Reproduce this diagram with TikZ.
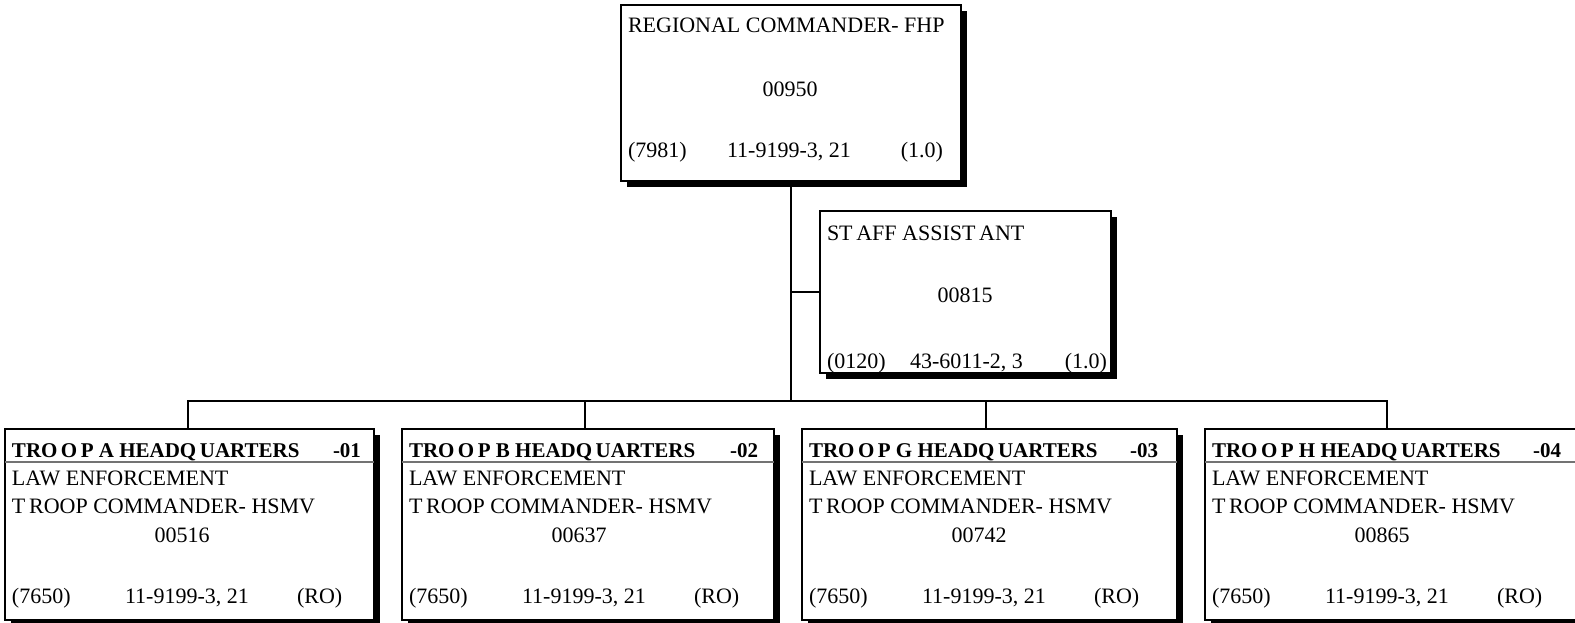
\documentclass[tikz,border=0pt]{standalone}
\usepackage{fontspec}
\setmainfont{Liberation Serif}
\usetikzlibrary{shadows}
\begin{document}
\begin{tikzpicture}[x=1pt,y=-1pt,
  orgbox/.style={draw=black, line width=2pt, fill=white, inner sep=0pt, outer sep=0pt,
    drop shadow={opacity=1, fill=black, shadow xshift=6pt, shadow yshift=-6pt}},
  conn/.style={draw=black, line width=1.6pt},
  sepline/.style={draw=black!55, line width=1.2pt},
  txt/.style={inner sep=0pt, outer sep=0pt, font=\fontsize{22}{24}\selectfont},
  hdr/.style={txt, font=\fontsize{21}{24}\selectfont\bfseries}]
\useasboundingbox (0,0) rectangle (1575,623);

% regional commander
\node[orgbox, minimum width=340, minimum height=176] (rc) at (791,93) {};
\node[txt, anchor=base west] (rc-t) at (628,33) {REGIONAL COMMANDER- FHP};
\node[txt, anchor=base] (rc-n) at (790,97) {00950};
\node[txt, anchor=base west] (rc-a) at (628,158) {(7981)};
\node[txt, anchor=base west] (rc-b) at (727,158) {11-9199-3, 21};
\node[txt, anchor=base east] (rc-c) at (943,158) {(1.0)};

% staff assistant
\node[orgbox, minimum width=291, minimum height=162] (sa) at (965.5,292) {};
\node[txt, anchor=base west] (sa-t) at (827,240) {ST\,AFF ASSIST\,ANT};
\node[txt, anchor=base] (sa-n) at (965,302) {00815};
\node[txt, anchor=base west] (sa-a) at (827,368) {(0120)};
\node[txt, anchor=base west] (sa-b) at (910,368) {43-6011-2, 3};
\node[txt, anchor=base east] (sa-c) at (1107,368) {(1.0)};

% troop headquarters
\foreach \nm/\L/\W/\letter/\code/\num in
  {ta/5/369/A/01/00516, tb/402/372/B/02/00637, tg/802/375/G/03/00742, th/1205/385/H/04/00865} {
  \node[orgbox, anchor=north west, minimum width=\W, minimum height=191] (\nm) at (\L,429) {};
  \draw[sepline] ([yshift=-33pt]\nm.north west) -- ([yshift=-33pt]\nm.north east);
  \node[hdr, anchor=base west] (\nm-h) at ({\L+7},457) {TRO\,O\,P \letter\ HEADQ\,UARTERS};
  \node[hdr, anchor=base west] (\nm-k) at ({\L+328},457) {-\code};
  \node[txt, anchor=base west] (\nm-d) at ({\L+7},485) {LAW ENFORCEMENT};
  \node[txt, anchor=base west] (\nm-p) at ({\L+7},513) {T\,ROOP COMMANDER- HSMV};
  \node[txt, anchor=base] (\nm-n) at ({\L+177},542) {\num};
  \node[txt, anchor=base west] (\nm-a) at ({\L+7},603) {(7650)};
  \node[txt, anchor=base west] (\nm-b) at ({\L+120},603) {11-9199-3, 21};
  \node[txt, anchor=base west] (\nm-c) at ({\L+292},603) {(RO)};
}

% connectors
\coordinate (bus) at (0,401);
\coordinate (da) at ([xshift=-1.5pt]ta.north);
\coordinate (db) at ([xshift=-3pt]tb.north);
\coordinate (dg) at ([xshift=-3.5pt]tg.north);
\coordinate (dh) at ([xshift=-10.5pt]th.north);
\draw[conn] (rc.south) -- (rc.south |- bus);
\draw[conn] (sa.west) -- (sa.west -| rc.south);
\draw[conn] (da) -- (da |- bus) -- (dh |- bus) -- (dh);
\draw[conn] (db) -- (db |- bus);
\draw[conn] (dg) -- (dg |- bus);
\end{tikzpicture}
\end{document}
